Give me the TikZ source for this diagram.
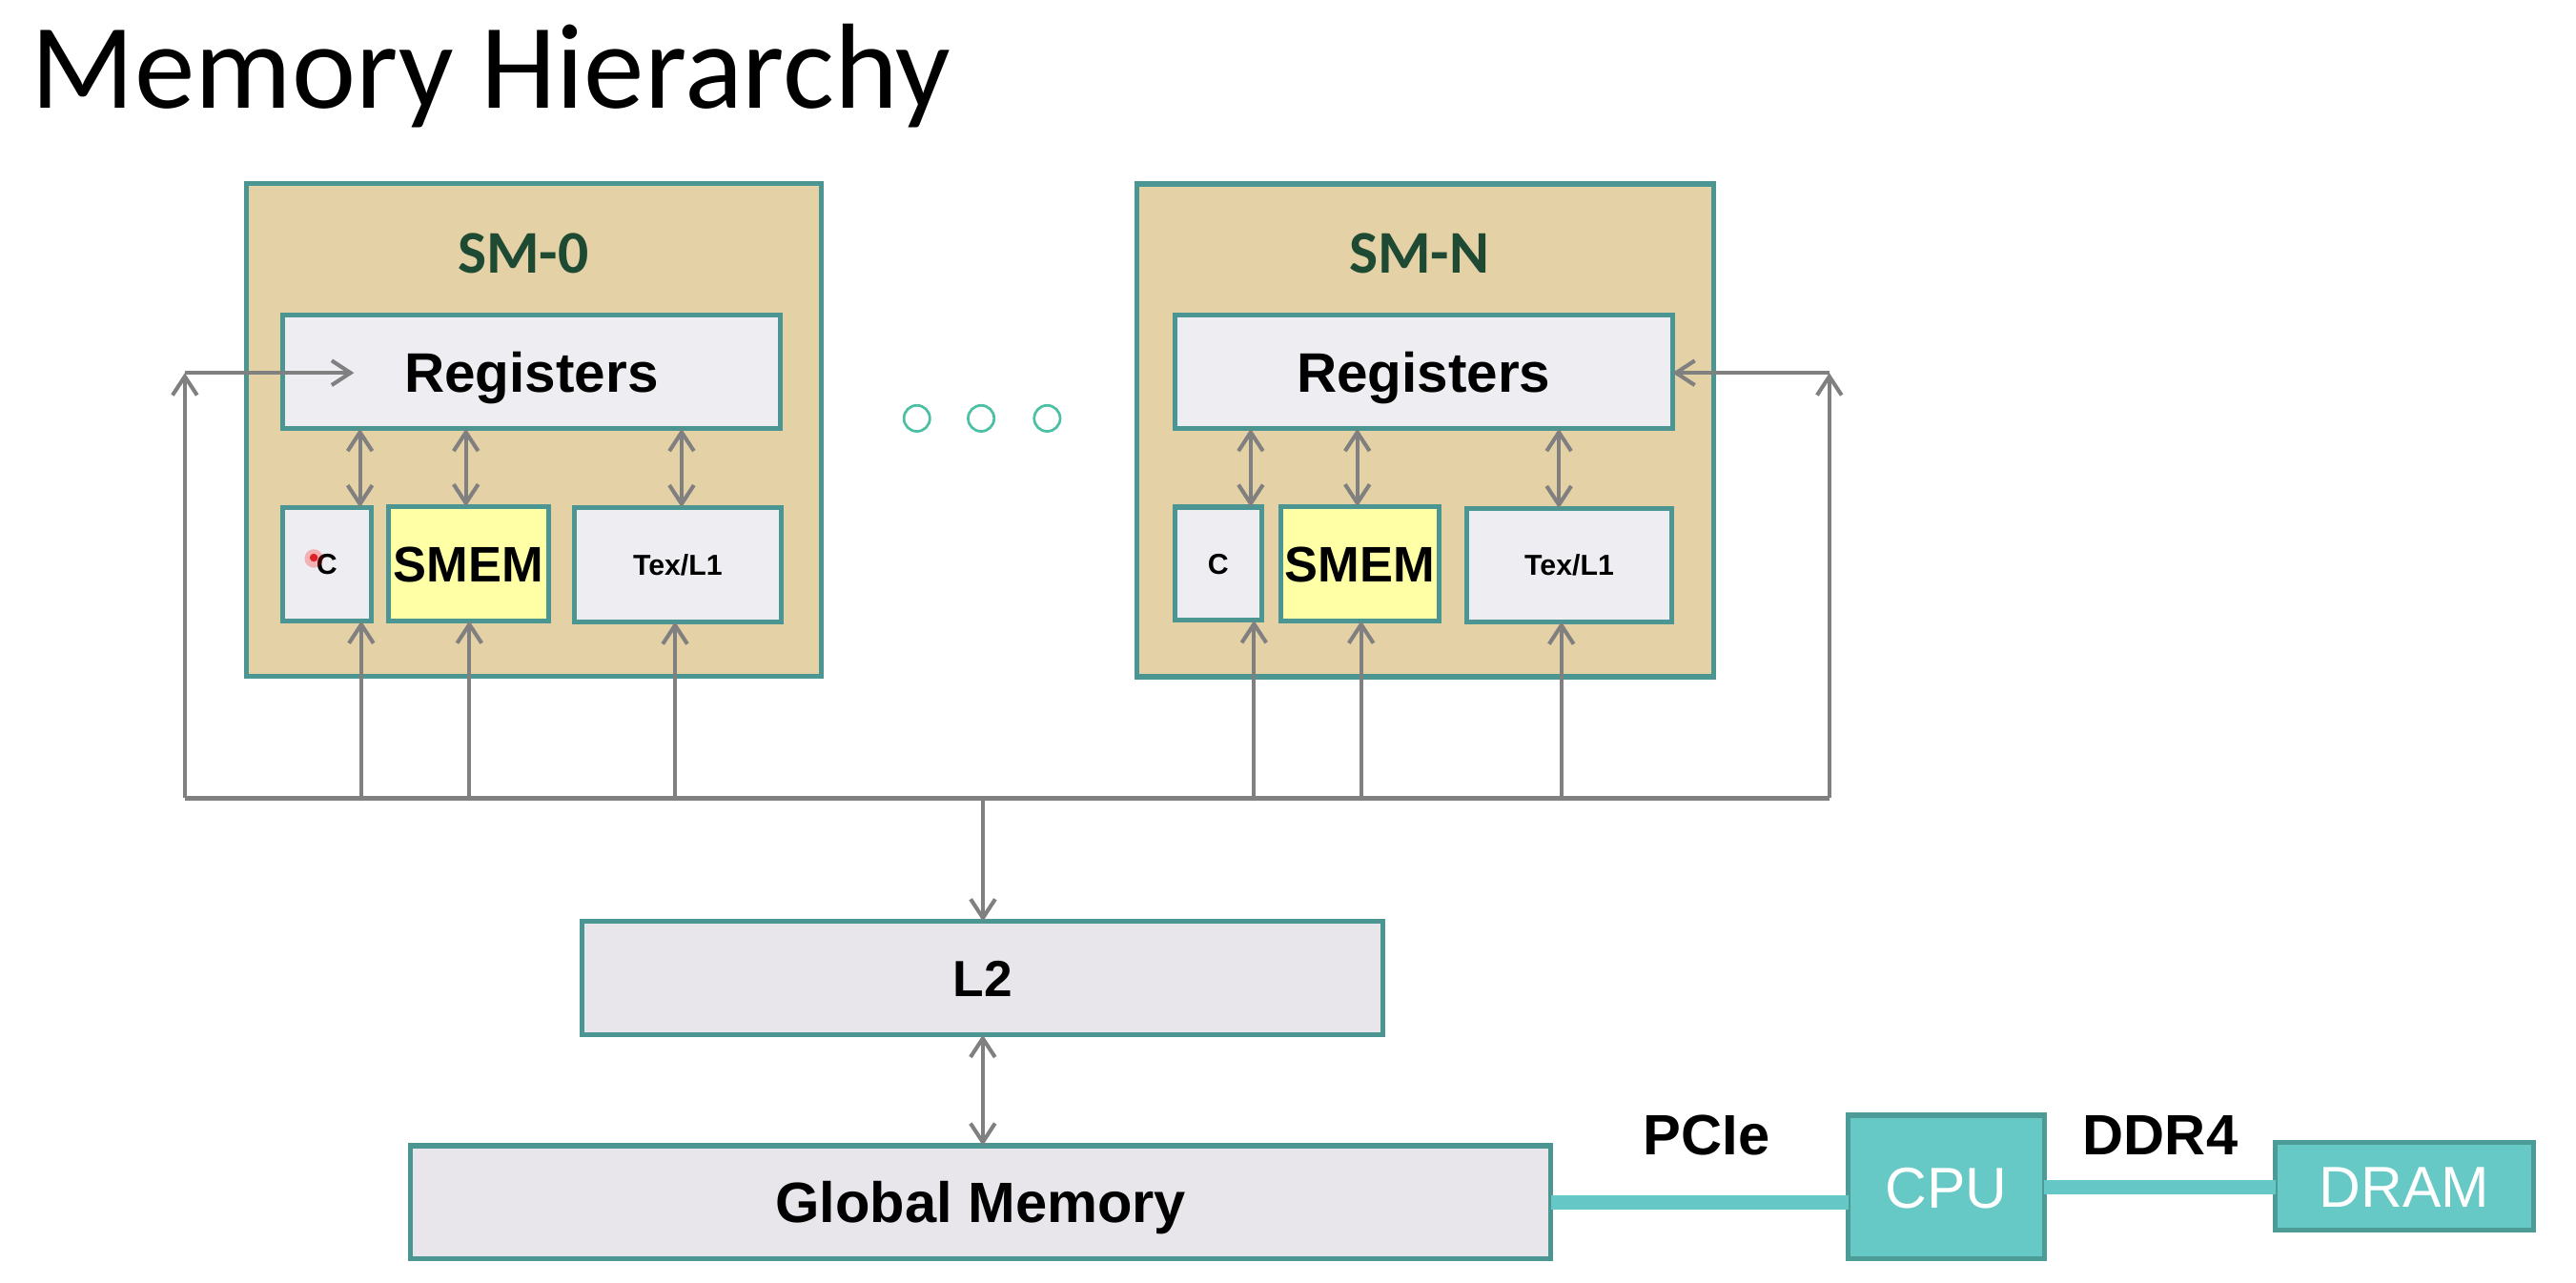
\documentclass[tikz,border=0pt]{standalone}
\usepackage{fontspec}
\setmainfont{Liberation Sans}
\newfontfamily\calibri{Carlito}
\usetikzlibrary{arrows.meta}
\definecolor{tealB}{HTML}{4B9592}
\definecolor{tanfill}{HTML}{E5D1A6}
\definecolor{cellg}{HTML}{EEEDF1}
\definecolor{lgray}{HTML}{E8E6EA}
\definecolor{smemy}{HTML}{FFFFA6}
\definecolor{arrg}{HTML}{808080}
\definecolor{smgreen}{HTML}{1E4A33}
\definecolor{cpuf}{HTML}{66C9C5}
\definecolor{cpub}{HTML}{4D9B97}
\definecolor{linkc}{HTML}{66C8C6}
\definecolor{dotc}{HTML}{4DBFA3}
\newcommand\myfs[1]{\fontsize{#1}{#1}\selectfont}
\begin{document}
\begin{tikzpicture}[x=0.02cm,y=-0.02cm,
  box/.style={draw=tealB, line width=1.7pt, fill=cellg, inner sep=0pt, outer sep=0pt},
  sz/.style 2 args={minimum width=#1*0.02cm, minimum height=#2*0.02cm},
  smbox/.style={box, fill=tanfill},
  smemc/.style={box, fill=smemy},
  lowbox/.style={box, fill=lgray},
  hostbox/.style={draw=cpub, line width=1.7pt, fill=cpuf, inner sep=0pt, outer sep=0pt, text=white,
     font=\myfs{20pt}, text height=14.3pt, text depth=0pt},
  bigt/.style={font=\myfs{19.3pt}\bfseries, text height=13.8pt, text depth=0pt},
  globt/.style={font=\myfs{19.7pt}\bfseries, text height=14.1pt, text depth=0pt},
  smemt/.style={font=\myfs{17.3pt}\bfseries, text height=12.4pt, text depth=0pt},
  smallt/.style={font=\myfs{10pt}\bfseries, text height=7.2pt, text depth=0pt},
  l2t/.style={font=\myfs{17.6pt}\bfseries, text height=12.6pt, text depth=0pt},
  smlbl/.style={font=\calibri\bfseries\myfs{21pt}, text=smgreen, inner sep=0pt},
  conlbl/.style={font=\myfs{19.7pt}\bfseries, inner sep=0pt},
  arr/.style={draw=arrg, line width=1.35pt, -{Straight Barb[length=6.5pt,width=8.5pt]}},
  darr/.style={draw=arrg, line width=1.35pt, {Straight Barb[length=6.5pt,width=8.5pt]}-{Straight Barb[length=6.5pt,width=8.5pt]}},
  bus/.style={draw=arrg, line width=1.65pt},
  link/.style={draw=linkc, line width=5pt},
  ring/.style={circle, draw=dotc, line width=0.9pt, minimum size=15.8*0.02cm, inner sep=0pt}
]
\useasboundingbox[fill=white] (0,0) rectangle (1568,781);

% title
\node[font=\calibri\myfs{42pt}, anchor=base west, inner sep=0pt] (title) at (18.5,66) {Memory Hierarchy};

% SM boxes
\node[smbox, sz={350}{300}] (SM0) at (325,261.7) {};
\node[smbox, sz={351}{300}] (SMN) at (867.5,262) {};
\node[smlbl, anchor=base] (sm0t) at (318.4,166) {SM-0};
\node[smlbl, anchor=base] (smNt) at (863.8,166) {SM-N};

% SM-0 contents
\node[box, sz={303}{69}, bigt] (Reg0) at (323.5,226.5) {Registers};
\node[box, sz={54}{69}, smallt] (C0) at (199,343.5) {C};
\node[smemc, sz={97.5}{69.5}, smemt] (SMEM0) at (285.2,343.2) {SMEM};
\node[box, sz={126}{69.5}, smallt] (Tex0) at (412.5,343.7) {Tex/L1};
\fill[red, opacity=0.25] (191,340) circle[radius=3.2pt];
\fill[red!85!black, opacity=0.8] (191,339.5) circle[radius=1.4pt];

% SM-N contents
\node[box, sz={303}{69}, bigt] (RegN) at (866.5,226.5) {Registers};
\node[box, sz={53}{69}, smallt] (CN) at (741.5,343.2) {C};
\node[smemc, sz={96.5}{69.5}, smemt] (SMEMN) at (827.7,343.2) {SMEM};
\node[box, sz={124.5}{69}, smallt] (TexN) at (955.2,344) {Tex/L1};

% dots
\node[ring] (d1) at (558.1,254.7) {};
\node[ring] (d2) at (597.2,254.7) {};
\node[ring] (d3) at (637.4,254.7) {};

% lower boxes
\node[lowbox, sz={487.5}{69}, l2t] (L2) at (598.2,595.5) {L2};
\node[lowbox, sz={694}{69}, globt] (Glob) at (597,732) {Global Memory};
\node[hostbox, sz={119.5}{87.5}] (CPU) at (1184.7,722.7) {CPU};
\node[hostbox, sz={157}{53.5}] (DRAM) at (1463.5,722.3) {DRAM};

% host links
\draw[link] (Glob.east) -- (Glob.east -| CPU.west);
\draw[link] (CPU.east) -- (CPU.east -| DRAM.west);
\node[conlbl, anchor=base] (pcie) at (1038.7,703) {PCIe};
\node[conlbl, anchor=base] (ddr) at (1315,703) {DDR4};

% bus coordinates
\coordinate (busL) at (112.5,486);
\coordinate (busR) at (1113.5,486);
\coordinate (bm) at (598.3,486);
\coordinate (u1) at (219.9,486);
\coordinate (u2) at (285.7,486);
\coordinate (u3) at (410.9,486);
\coordinate (u4) at (763.3,486);
\coordinate (u5) at (828.5,486);
\coordinate (u6) at (950.4,486);
\coordinate (k1) at (219.1,290);
\coordinate (k2) at (283.6,290);
\coordinate (k3) at (414.9,290);
\coordinate (k4) at (761.3,290);
\coordinate (k5) at (826.2,290);
\coordinate (k6) at (948.9,290);
\coordinate (cL) at (112.5,227);
\coordinate (cR) at (1113.5,227);
\coordinate (r0in) at (215.5,227);

% bus
\draw[bus] (busL) -- (busR);

% register <-> caches
\draw[darr] (k1 |- Reg0.south) -- (k1 |- C0.north);
\draw[darr] (k2 |- Reg0.south) -- (k2 |- SMEM0.north);
\draw[darr] (k3 |- Reg0.south) -- (k3 |- Tex0.north);
\draw[darr] (k4 |- RegN.south) -- (k4 |- CN.north);
\draw[darr] (k5 |- RegN.south) -- (k5 |- SMEMN.north);
\draw[darr] (k6 |- RegN.south) -- (k6 |- TexN.north);

% bus -> caches
\draw[arr] (u1) -- (u1 |- C0.south);
\draw[arr] (u2) -- (u2 |- SMEM0.south);
\draw[arr] (u3) -- (u3 |- Tex0.south);
\draw[arr] (u4) -- (u4 |- CN.south);
\draw[arr] (u5) -- (u5 |- SMEMN.south);
\draw[arr] (u6) -- (u6 |- TexN.south);

% bus -> registers
\draw[arr] (busL) -- (cL);
\draw[arr] (cL) -- (r0in);
\draw[arr] (busR) -- (cR);
\draw[arr] (cR) -- (RegN.east |- cR);

% bus -> L2 -> global
\draw[arr] (bm) -- (bm |- L2.north);
\draw[darr] (L2.south) -- (L2.south |- Glob.north);
\end{tikzpicture}
\end{document}
